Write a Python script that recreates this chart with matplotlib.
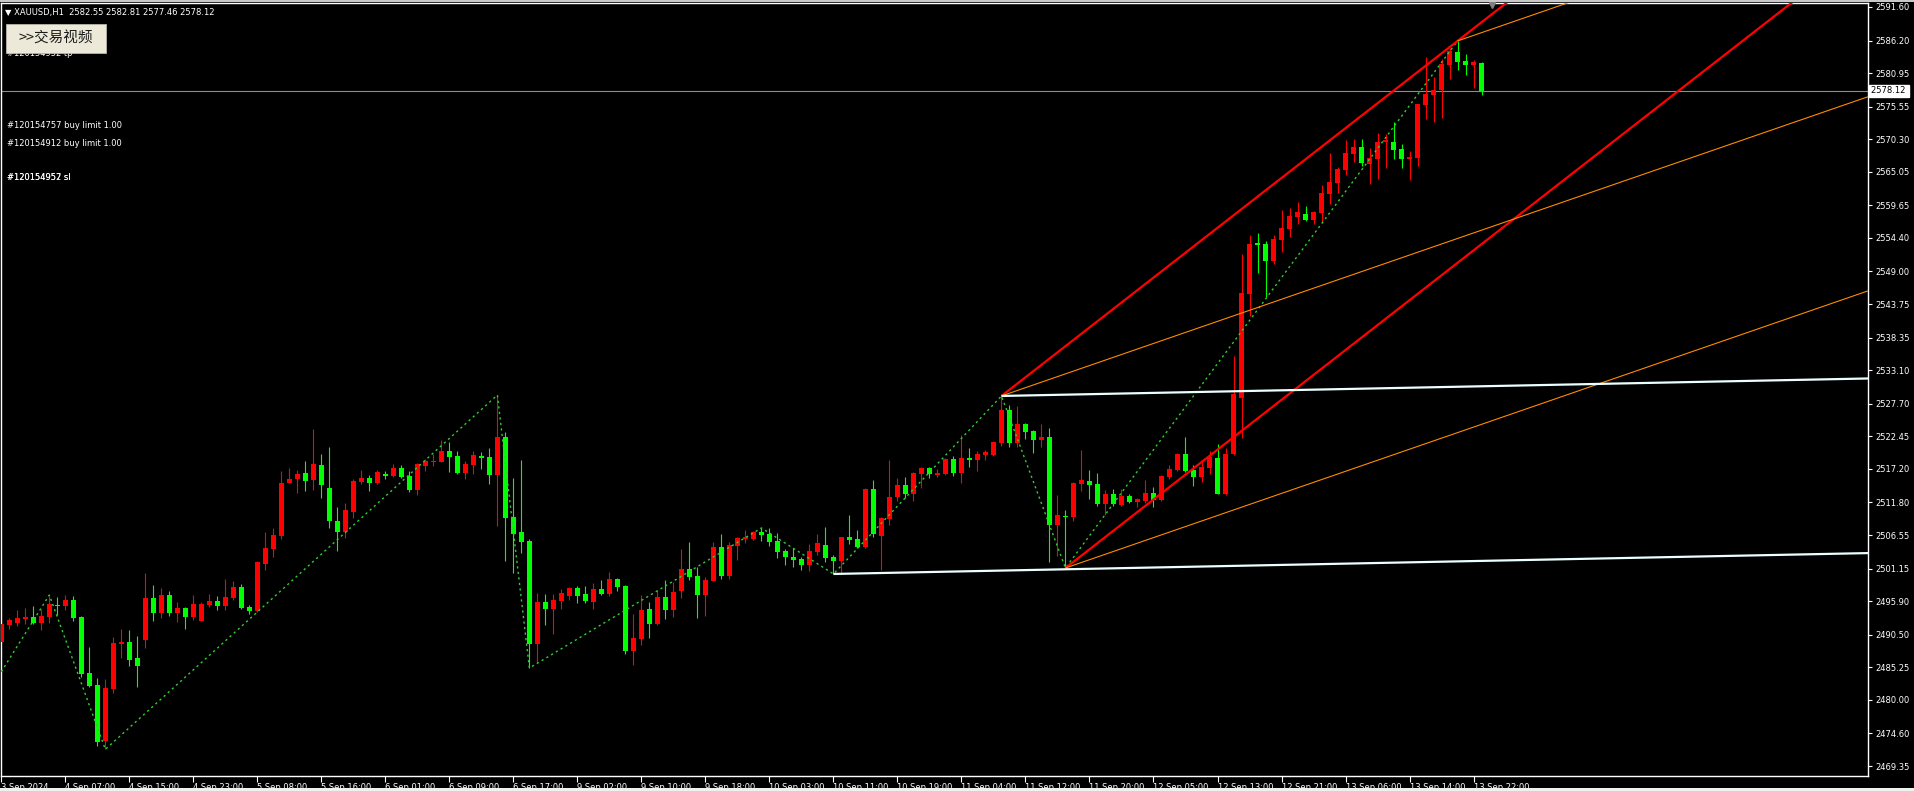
import numpy as np
import matplotlib
matplotlib.use('Agg')
import matplotlib.pyplot as plt
import matplotlib.transforms as mtransforms
from matplotlib.patches import Rectangle

# XAUUSD H1 bars, 3 Sep 23:00 .. 13 Sep 23:00 (server time)
opens = [2489.37, 2492.06, 2492.38, 2493.03, 2493.35, 2492.38, 2493.35, 2495.23, 2495.12, 2496.09,
         2493.35, 2484.33, 2482.40, 2473.38, 2481.75, 2489.00, 2489.32, 2486.74, 2489.64, 2496.41,
         2493.99, 2496.89, 2493.99, 2494.80, 2493.35, 2492.70, 2495.28, 2495.92, 2495.12, 2496.41,
         2498.18, 2494.96, 2494.31, 2501.88, 2504.30, 2506.39, 2514.93, 2515.57, 2516.54, 2515.41,
         2517.83, 2514.13, 2508.81, 2507.04, 2510.26, 2515.09, 2515.74, 2514.93, 2516.38, 2516.06,
         2517.35, 2516.06, 2513.80, 2517.67, 2518.37, 2518.31, 2520.08, 2519.28, 2516.54, 2517.83,
         2519.28, 2519.12, 2516.22, 2522.34, 2509.45, 2507.04, 2505.59, 2489.00, 2495.76, 2494.64,
         2495.92, 2496.73, 2498.02, 2497.05, 2495.76, 2497.86, 2497.06, 2499.47, 2498.34, 2487.88,
         2489.81, 2494.64, 2492.22, 2496.57, 2494.48, 2497.54, 2501.08, 2499.96, 2496.90, 2499.15,
         2504.63, 2499.96, 2504.79, 2505.91, 2505.91, 2507.04, 2506.72, 2505.59, 2503.98, 2503.02,
         2502.69, 2501.73, 2503.82, 2504.95, 2503.02, 2502.37, 2506.24, 2505.91, 2504.63, 2513.97,
         2506.40, 2509.14, 2512.68, 2514.61, 2513.16, 2516.38, 2517.35, 2516.22, 2516.38, 2518.80,
         2516.54, 2518.96, 2518.64, 2519.44, 2519.44, 2521.38, 2526.69, 2521.38, 2524.44, 2523.31,
         2521.86, 2522.34, 2508.17, 2509.67, 2509.46, 2514.77, 2515.26, 2514.77, 2511.55, 2513.16,
         2511.39, 2512.84, 2511.87, 2512.03, 2513.32, 2512.20, 2515.90, 2517.03, 2519.60, 2517.03,
         2515.90, 2517.35, 2518.96, 2513.17, 2519.61, 2528.63, 2545.38, 2553.59, 2553.43, 2550.69,
         2554.08, 2555.85, 2557.78, 2558.26, 2557.30, 2558.43, 2561.49, 2563.26, 2565.35, 2567.93,
         2569.06, 2566.32, 2567.12, 2569.86, 2569.86, 2568.73, 2567.12, 2567.28, 2575.82, 2577.43,
         2578.24, 2582.26, 2584.36, 2582.91, 2582.26, 2582.55]
highs = [2494.48, 2493.24, 2494.48, 2494.80, 2495.12, 2494.69, 2496.73, 2496.57, 2496.89, 2496.73,
         2493.51, 2488.52, 2483.52, 2483.36, 2490.13, 2491.42, 2491.25, 2490.29, 2500.43, 2498.50,
         2498.02, 2497.54, 2495.76, 2494.96, 2496.89, 2495.76, 2497.05, 2496.73, 2499.47, 2499.15,
         2498.66, 2495.28, 2502.37, 2507.04, 2507.68, 2516.86, 2517.35, 2517.02, 2518.47, 2523.63,
         2519.60, 2520.73, 2511.07, 2511.71, 2515.57, 2517.02, 2516.22, 2517.02, 2516.86, 2517.99,
         2517.83, 2516.86, 2518.15, 2518.80, 2519.60, 2521.86, 2521.53, 2520.08, 2518.47, 2520.08,
         2519.92, 2520.57, 2529.10, 2523.14, 2515.74, 2518.63, 2505.91, 2497.21, 2497.05, 2497.05,
         2497.86, 2498.18, 2498.34, 2498.34, 2498.82, 2499.31, 2500.60, 2499.63, 2498.51, 2493.83,
         2496.90, 2495.77, 2497.70, 2499.31, 2498.99, 2504.30, 2505.43, 2501.41, 2499.79, 2505.43,
         2506.72, 2505.43, 2506.24, 2507.36, 2507.20, 2507.69, 2507.69, 2506.88, 2504.30, 2504.47,
         2503.02, 2505.11, 2506.72, 2507.85, 2503.34, 2506.24, 2509.78, 2507.36, 2514.13, 2515.42,
         2509.46, 2518.64, 2515.74, 2515.90, 2516.71, 2517.51, 2517.51, 2517.19, 2518.96, 2519.28,
         2522.67, 2520.57, 2520.09, 2520.25, 2521.70, 2528.95, 2527.50, 2527.34, 2524.60, 2523.47,
         2524.44, 2523.79, 2513.00, 2510.59, 2515.10, 2520.25, 2517.03, 2516.54, 2513.81, 2513.97,
         2513.97, 2513.16, 2512.52, 2515.42, 2514.29, 2516.22, 2517.83, 2519.77, 2522.34, 2517.83,
         2518.64, 2520.09, 2521.22, 2520.57, 2535.39, 2551.82, 2554.88, 2555.20, 2553.92, 2554.88,
         2558.91, 2559.23, 2560.20, 2559.55, 2558.75, 2562.94, 2568.09, 2565.83, 2570.18, 2570.34,
         2570.34, 2568.89, 2571.31, 2571.15, 2573.08, 2569.54, 2568.41, 2575.98, 2583.55, 2580.33,
         2583.23, 2585.00, 2586.13, 2584.03, 2583.07, 2582.81]
lows = [2489.11, 2491.36, 2491.95, 2492.27, 2492.22, 2491.25, 2492.44, 2493.67, 2494.48, 2492.76,
        2483.74, 2482.13, 2472.63, 2472.03, 2481.16, 2486.74, 2485.51, 2482.13, 2488.41, 2492.76,
        2493.19, 2493.51, 2492.54, 2491.47, 2492.92, 2492.70, 2494.96, 2494.48, 2494.48, 2496.09,
        2494.64, 2493.83, 2494.15, 2500.92, 2503.01, 2505.91, 2514.93, 2513.32, 2513.64, 2513.80,
        2512.51, 2507.68, 2503.98, 2506.13, 2509.29, 2514.77, 2513.64, 2514.77, 2515.57, 2515.90,
        2515.74, 2513.48, 2513.00, 2516.86, 2517.67, 2518.31, 2516.70, 2516.38, 2515.57, 2516.38,
        2517.19, 2514.77, 2508.00, 2502.37, 2500.43, 2503.66, 2485.13, 2485.94, 2492.06, 2490.61,
        2494.64, 2496.09, 2495.60, 2495.60, 2494.64, 2496.89, 2496.73, 2497.54, 2487.39, 2485.62,
        2488.84, 2489.97, 2492.06, 2493.03, 2493.35, 2496.41, 2499.31, 2493.19, 2493.51, 2499.15,
        2499.47, 2499.47, 2502.53, 2505.27, 2505.75, 2505.59, 2504.79, 2502.85, 2501.73, 2501.41,
        2500.92, 2500.76, 2503.34, 2502.21, 2500.28, 2500.44, 2505.11, 2504.47, 2504.47, 2506.24,
        2500.92, 2508.17, 2512.04, 2512.52, 2512.03, 2514.13, 2515.74, 2515.90, 2516.22, 2516.06,
        2514.93, 2517.51, 2516.87, 2518.64, 2519.28, 2520.89, 2520.73, 2520.73, 2522.02, 2519.77,
        2520.73, 2502.21, 2503.18, 2501.24, 2508.81, 2513.65, 2512.36, 2511.23, 2509.78, 2511.23,
        2511.23, 2511.71, 2511.07, 2511.71, 2511.07, 2512.03, 2515.58, 2516.87, 2516.71, 2514.45,
        2515.10, 2516.39, 2513.17, 2513.01, 2519.45, 2522.19, 2541.84, 2548.76, 2544.90, 2550.21,
        2552.14, 2554.56, 2556.65, 2557.14, 2556.65, 2556.81, 2559.87, 2561.65, 2564.55, 2566.64,
        2566.00, 2563.10, 2563.90, 2565.67, 2567.12, 2565.67, 2563.74, 2566.00, 2573.57, 2573.08,
        2573.73, 2580.01, 2581.46, 2580.65, 2578.56, 2577.46]
closes = [2492.22, 2492.86, 2493.19, 2493.35, 2492.38, 2493.51, 2495.44, 2495.12, 2496.09, 2493.24,
          2484.17, 2482.23, 2473.27, 2481.91, 2489.16, 2489.32, 2486.42, 2485.46, 2496.41, 2493.99,
          2496.89, 2493.99, 2494.80, 2493.35, 2495.44, 2495.44, 2495.92, 2495.12, 2496.57, 2498.18,
          2494.80, 2494.31, 2502.21, 2504.46, 2506.56, 2514.93, 2515.57, 2516.38, 2515.25, 2517.99,
          2514.61, 2508.81, 2507.04, 2510.58, 2515.25, 2515.74, 2514.93, 2516.70, 2516.06, 2517.35,
          2515.90, 2513.80, 2517.99, 2518.47, 2518.53, 2520.08, 2519.12, 2516.54, 2517.99, 2519.44,
          2518.96, 2516.22, 2522.34, 2509.29, 2506.72, 2505.43, 2489.00, 2495.76, 2494.64, 2496.09,
          2497.21, 2498.02, 2496.73, 2495.92, 2497.86, 2497.05, 2499.47, 2498.18, 2487.88, 2489.97,
          2494.48, 2492.22, 2496.57, 2494.48, 2497.38, 2501.08, 2499.79, 2496.90, 2499.31, 2504.63,
          2499.96, 2504.95, 2506.08, 2506.24, 2507.04, 2506.56, 2505.43, 2503.82, 2503.02, 2502.53,
          2501.73, 2503.98, 2505.27, 2502.85, 2502.37, 2506.24, 2505.75, 2504.63, 2513.97, 2506.72,
          2509.30, 2512.68, 2514.61, 2513.16, 2516.54, 2517.35, 2516.38, 2516.54, 2518.80, 2516.54,
          2518.96, 2518.64, 2519.60, 2519.93, 2521.54, 2526.69, 2521.38, 2524.44, 2523.15, 2521.86,
          2522.34, 2508.17, 2509.78, 2509.51, 2514.93, 2515.42, 2514.61, 2511.55, 2513.16, 2511.55,
          2512.84, 2511.87, 2512.36, 2513.32, 2512.20, 2516.06, 2517.19, 2519.60, 2516.87, 2515.90,
          2517.51, 2519.13, 2513.17, 2519.61, 2529.27, 2545.54, 2553.43, 2553.27, 2550.69, 2554.24,
          2556.01, 2557.94, 2558.59, 2557.30, 2558.59, 2561.65, 2563.42, 2565.51, 2568.09, 2569.06,
          2566.48, 2567.28, 2569.86, 2570.18, 2568.57, 2567.12, 2567.45, 2575.98, 2577.59, 2578.24,
          2582.42, 2584.52, 2582.75, 2582.26, 2582.75, 2578.12]

time_labels = ['3 Sep 2024', '4 Sep 07:00', '4 Sep 15:00', '4 Sep 23:00', '5 Sep 08:00',
               '5 Sep 16:00', '6 Sep 01:00', '6 Sep 09:00', '6 Sep 17:00', '9 Sep 02:00',
               '9 Sep 10:00', '9 Sep 18:00', '10 Sep 03:00', '10 Sep 11:00', '10 Sep 19:00',
               '11 Sep 04:00', '11 Sep 12:00', '11 Sep 20:00', '12 Sep 05:00', '12 Sep 13:00',
               '12 Sep 21:00', '13 Sep 06:00', '13 Sep 14:00', '13 Sep 22:00']
label_step = 8  # bars between time labels

price_ticks = [2591.60, 2586.20, 2580.95, 2575.55, 2570.30, 2565.05, 2559.65, 2554.40,
               2549.00, 2543.75, 2538.35, 2533.10, 2527.70, 2522.45, 2517.20, 2511.80,
               2506.55, 2501.15, 2495.90, 2490.50, 2485.25, 2480.00, 2474.60, 2469.35]
last_price = 2578.12

# zigzag turning points (bar index, price)
zz_bars = [0, 6, 13, 62, 66, 95, 104, 125, 133, 182]
zz_prices = [2484.54, 2496.89, 2472.03, 2529.10, 2485.13, 2507.69, 2500.28, 2528.95, 2501.24, 2586.13]

orange_slope = 0.445   # price per bar
white_slope = 0.026

header = '\u25bc XAUUSD,H1  2582.55 2582.81 2577.46 2578.12'
order_lines = ['#120154757 buy limit 1.00', '#120154912 buy limit 1.00']

W, H = 1915, 791
fig = plt.figure(figsize=(W / 100, H / 100), dpi=100, facecolor='black')
ax = fig.add_axes([1 / W, 15 / H, 1867 / W, 773 / H], facecolor='black')

o = np.array(opens)
h = np.array(highs)
l = np.array(lows)
c = np.array(closes)
x = np.arange(len(o))

x_end = 233.3
ax.set_xlim(-0.04, x_end)
ax.set_ylim(2467.74, 2592.24)

# bull = red, bear = green
cols = np.where(c > o, '#ff0000', '#00ff00')
ax.vlines(x, l, h, colors=cols, lw=0.8, zorder=2)
ax.bar(x, np.maximum(np.abs(c - o), 0.16), bottom=np.minimum(o, c), width=0.62,
       color=cols, linewidth=0, zorder=3)

# bid line
ax.axhline(last_price, color='#8c8c8c', lw=0.8, zorder=1)

# zigzag
ax.plot(zz_bars, zz_prices, color='#32cd32', lw=1, ls=(0, (1.6, 2.4)), zorder=4)


def ray(b0, p0, slope, **kw):
    ax.plot([b0, x_end], [p0, p0 + slope * (x_end - b0)], solid_capstyle='butt', zorder=5, **kw)


red_slope = (h[182] - h[125]) / (182 - 125)
ray(125, h[125], red_slope, color='#ff0000', lw=1.6)
ray(133, l[133], red_slope, color='#ff0000', lw=1.6)
ray(125, h[125], orange_slope, color='#ff8c00', lw=0.8)
ray(182, h[182], orange_slope, color='#ff8c00', lw=0.8)
ray(133, l[133], orange_slope, color='#ff8c00', lw=0.8)
ray(125, h[125], white_slope, color='#eaffff', lw=1.6)
ray(104, l[104], white_slope, color='#eaffff', lw=1.6)

# axes styling
for s in ax.spines.values():
    s.set_color('white')
    s.set_linewidth(1)
ax.yaxis.tick_right()
ax.set_yticks(price_ticks)
ax.set_yticklabels(['%.2f' % p for p in price_ticks])
ax.tick_params(axis='y', colors='white', labelsize=6, length=3, width=0.8, pad=2)
ax.set_xticks(np.arange(len(time_labels)) * label_step)
ax.set_xticklabels(time_labels, ha='left')
ax.tick_params(axis='x', colors='white', labelsize=6, length=4, width=0.8, pad=1)

# current price box on the scale
trans = mtransforms.blended_transform_factory(ax.transAxes, ax.transData)
ax.text(1.0015, last_price, '2578.12 ', transform=trans, ha='left', va='center',
        color='black', fontsize=6, clip_on=False, zorder=6,
        bbox=dict(boxstyle='square,pad=0.2', fc='white', ec='white'))
ax.plot([0.7986], [0.997], marker='v', ms=5, color='#808080', transform=ax.transAxes,
        clip_on=False, zorder=6)

# texts at top-left
fig.text(5 / W, 1 - 12 / H, header, color='white', fontsize=6, va='center', ha='left')
fig.text(7 / W, 1 - 54 / H, '#120154952 tp', color='white', fontsize=6, va='center',
         ha='left', zorder=4)
fig.patches.append(Rectangle((6 / W, 1 - 53 / H), 100 / W, 29 / H, transform=fig.transFigure,
                             facecolor='#ece9d8', edgecolor='#b8b4a8', lw=0.6, zorder=5))
fig.text(56 / W, 1 - 38.5 / H, '>>交易视频', color='#1a1a1a', fontsize=10.5,
         family=['Noto Sans CJK SC', 'DejaVu Sans'], va='center', ha='center', zorder=6)
for i, t in enumerate(order_lines):
    fig.text(7 / W, 1 - (126 + 18 * i) / H, t, color='white', fontsize=6, va='center', ha='left')
fig.text(7 / W, 1 - 178 / H, '#120154952 sl', color='white', fontsize=6, va='center', ha='left')
fig.text(7.4 / W, 1 - 178 / H, '#120154957 sl', color='white', fontsize=6, va='center', ha='left')

# window frame bits
fig.patches.append(Rectangle((0, 1 - 1.5 / H), 1, 1.5 / H, transform=fig.transFigure,
                             facecolor='#c8c8c8', lw=0))
fig.patches.append(Rectangle((0, 0), 1, 3 / H, transform=fig.transFigure,
                             facecolor='#f0f0f0', lw=0))

fig.savefig('out.png', dpi=100, facecolor='black')
